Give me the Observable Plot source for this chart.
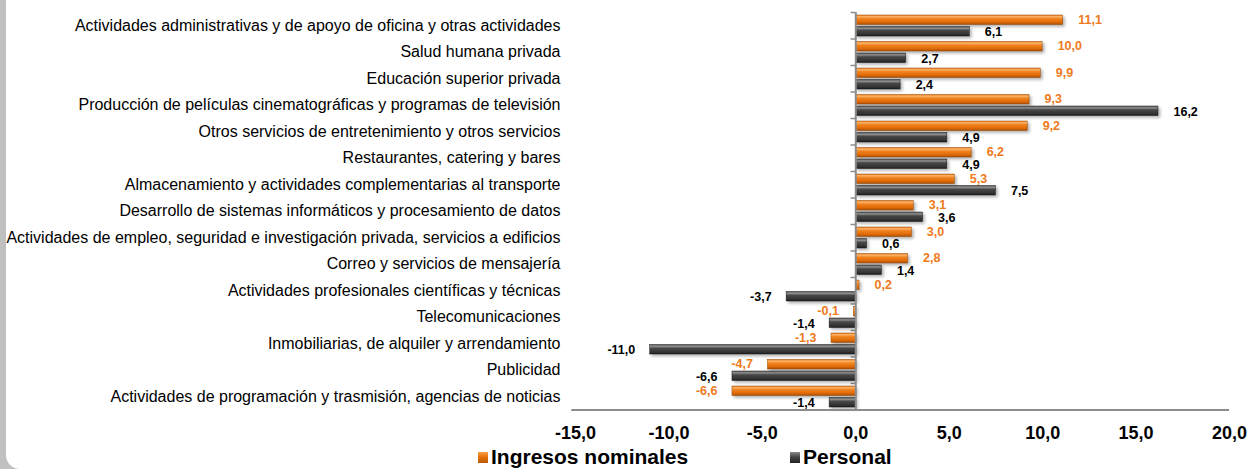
<!DOCTYPE html>
<html>
<head>
<meta charset="utf-8">
<script src="https://cdn.jsdelivr.net/npm/d3@7"></script>
<script src="https://cdn.jsdelivr.net/npm/@observablehq/plot@0.6"></script>
<style>
  html, body { margin: 0; padding: 0; overflow: hidden; }
  body { width: 1248px; height: 469px; position: relative; background: #c0c0c0; font-family: "Liberation Sans", Arial, sans-serif; }
  #panel { position: absolute; left: 6px; top: 0; right: -20px; bottom: 0; background: #fff; border-bottom-left-radius: 14px; }
  #chart { position: absolute; left: 0; top: 0; }
  #legend { position: absolute; left: 0; top: 445px; width: 1248px; height: 24px; }
  .item { position: absolute; top: 0; height: 24px; display: flex; align-items: center; font-weight: bold; font-size: 21px; color: #000; white-space: nowrap; }
  .sw { width: 10px; height: 11px; margin-right: 3px; }
</style>
</head>
<body>
<div id="panel"></div>
<div id="chart"></div>
<div id="legend">
  <div class="item" style="left:478px"><span class="sw" style="background:linear-gradient(#f7a24c,#e8710a 45%,#b85a08)"></span>Ingresos nominales</div>
  <div class="item" style="left:790px"><span class="sw" style="background:linear-gradient(#8a8a8a,#454545 45%,#222)"></span>Personal</div>
</div>
<script>
const categories = [
  "Actividades administrativas y de apoyo de oficina y otras actividades",
  "Salud humana privada",
  "Educación superior privada",
  "Producción de películas cinematográficas y programas de televisión",
  "Otros servicios de entretenimiento y otros servicios",
  "Restaurantes, catering y bares",
  "Almacenamiento y actividades complementarias al transporte",
  "Desarrollo de sistemas informáticos y procesamiento de datos",
  "Actividades de empleo, seguridad e investigación privada, servicios a edificios",
  "Correo y servicios de mensajería",
  "Actividades profesionales científicas y técnicas",
  "Telecomunicaciones",
  "Inmobiliarias, de alquiler y arrendamiento",
  "Publicidad",
  "Actividades de programación y trasmisión, agencias de noticias"
];
const ingresos = [11.1, 10.0, 9.9, 9.3, 9.2, 6.2, 5.3, 3.1, 3.0, 2.8, 0.2, -0.1, -1.3, -4.7, -6.6];
const personal = [6.1, 2.7, 2.4, 16.2, 4.9, 4.9, 7.5, 3.6, 0.6, 1.4, -3.7, -1.4, -11.0, -6.6, -1.4];
const xTicks = [-15, -10, -5, 0, 5, 10, 15, 20];

const ingData = categories.map((c, i) => ({cat: c, value: ingresos[i]}));
const perData = categories.map((c, i) => ({cat: c, value: personal[i]}));
const fmt = d => d.toFixed(1).replace(".", ",");
const orangeText = "#ee7a1c";

const labelOpts = {fontSize: 12.5, fontWeight: "bold"};

const chart = Plot.plot({
  width: 1248,
  height: 445,
  marginLeft: 575,
  marginRight: 19,
  marginTop: 12,
  marginBottom: 35.5,
  style: {fontFamily: "'Liberation Sans', Arial, sans-serif", background: "transparent", color: "#000"},
  x: {domain: [-15, 20], label: null},
  y: {domain: categories, padding: 0, round: false, label: null},
  marks: [
    Plot.ruleY(categories, {y: d => d, x1: -0.25, x2: 0, dy: -13.25, stroke: "#8c8c8c", strokeWidth: 1.5}),
    Plot.barX(ingData, {y: "cat", x1: 0, x2: "value", insetTop: 3, insetBottom: 14, fill: "url(#gO)", stroke: "#9a4a05", strokeWidth: 0.5}),
    Plot.barX(perData, {y: "cat", x1: 0, x2: "value", insetTop: 14.5, insetBottom: 2.5, fill: "url(#gD)", stroke: "#1a1a1a", strokeWidth: 0.5}),
    Plot.ruleX([0], {stroke: "#8c8c8c", strokeWidth: 2}),
    Plot.ruleY([categories[categories.length - 1]], {y: d => d, x1: -15.2, x2: 20, dy: 13.25, stroke: "#8c8c8c", strokeWidth: 2}),
    Plot.text(ingData.filter(d => d.value >= 0), {y: "cat", x: "value", text: d => fmt(d.value), dy: -6.25, dx: 15, textAnchor: "start", fill: orangeText, ...labelOpts}),
    Plot.text(ingData.filter(d => d.value < 0), {y: "cat", x: "value", text: d => fmt(d.value), dy: -6.25, dx: -15, textAnchor: "end", fill: orangeText, ...labelOpts}),
    Plot.text(perData.filter(d => d.value >= 0), {y: "cat", x: "value", text: d => fmt(d.value), dy: 6.5, dx: 15, textAnchor: "start", fill: "#000", ...labelOpts}),
    Plot.text(perData.filter(d => d.value < 0), {y: "cat", x: "value", text: d => fmt(d.value), dy: 6.5, dx: -15, textAnchor: "end", fill: "#000", ...labelOpts}),
    Plot.axisY({tickSize: 0, tickPadding: 15, fontSize: 16, label: null}),
    Plot.axisX({ticks: xTicks, tickFormat: fmt, tickSize: 0, tickPadding: 16, fontSize: 18, fontWeight: "bold", label: null})
  ]
});

// gradients for the 3D-looking bars
const ns = "http://www.w3.org/2000/svg";
const defs = document.createElementNS(ns, "defs");
defs.innerHTML = `
  <linearGradient id="gO" x1="0" y1="0" x2="0" y2="1">
    <stop offset="0" stop-color="#e87a1a"/>
    <stop offset="0.18" stop-color="#fbb46a"/>
    <stop offset="0.38" stop-color="#f08420"/>
    <stop offset="0.75" stop-color="#e06a08"/>
    <stop offset="1" stop-color="#a84f05"/>
  </linearGradient>
  <linearGradient id="gD" x1="0" y1="0" x2="0" y2="1">
    <stop offset="0" stop-color="#5a5a5a"/>
    <stop offset="0.2" stop-color="#8e8e8e"/>
    <stop offset="0.4" stop-color="#484848"/>
    <stop offset="0.8" stop-color="#333"/>
    <stop offset="1" stop-color="#1c1c1c"/>
  </linearGradient>`;
chart.insertBefore(defs, chart.firstChild);
chart.querySelectorAll('g[aria-label="bar"]').forEach(g => g.style.filter = "drop-shadow(2px 2px 1.5px rgba(0,0,0,0.3))");
document.getElementById("chart").appendChild(chart);
</script>
</body>
</html>
